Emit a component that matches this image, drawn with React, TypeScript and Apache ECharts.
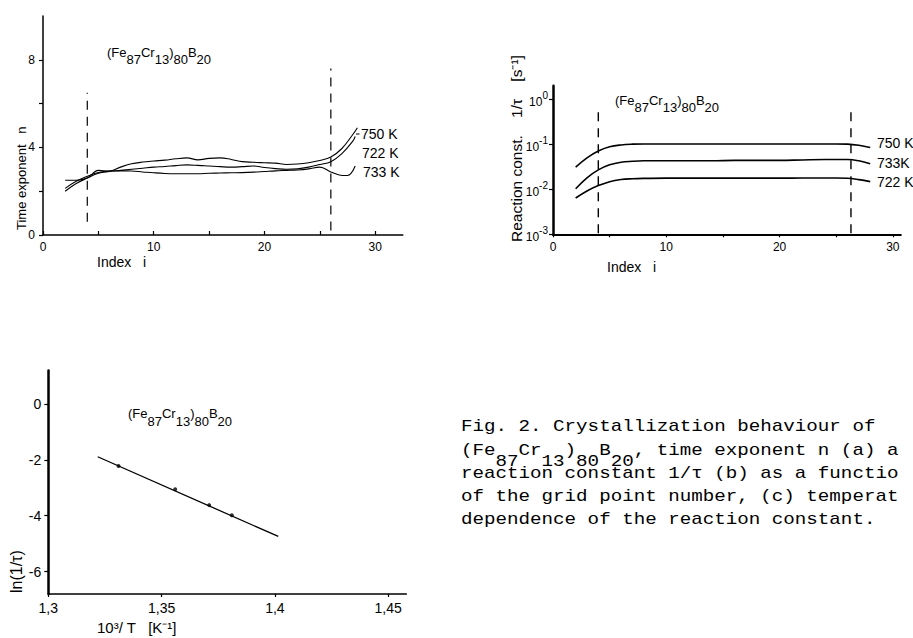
import React, { useEffect, useRef } from 'react';
import * as echarts from 'echarts';

const SANS = '"Liberation Sans", Arial, sans-serif';
const MONO = '"Liberation Mono", "Courier New", monospace';

// ---------- (a) time exponent n vs. index i ----------
const idxA750 = [2, 3, 4, 5, 6, 7, 8, 9, 10, 11, 12, 13, 14, 15, 16, 17, 18, 19, 20, 21, 22, 23, 24, 25, 26, 27, 28, 28.4];
const nA750 = [2.5, 2.5, 2.6, 2.95, 2.92, 3.1, 3.25, 3.33, 3.38, 3.42, 3.48, 3.52, 3.43, 3.5, 3.52, 3.45, 3.35, 3.32, 3.3, 3.28, 3.22, 3.24, 3.3, 3.4, 3.56, 3.95, 4.6, 4.9];
const idxA722 = [2, 3, 4, 5, 6, 7, 8, 9, 10, 11, 12, 13, 14, 15, 16, 17, 18, 19, 20, 21, 22, 23, 24, 25, 26, 27, 28, 28.2];
const nA722 = [2.0, 2.35, 2.6, 2.82, 2.9, 2.95, 3.0, 3.05, 3.1, 3.13, 3.17, 3.2, 3.18, 3.15, 3.12, 3.1, 3.12, 3.15, 3.08, 3.03, 3.0, 3.02, 3.1, 3.22, 3.35, 3.72, 4.3, 4.5];
const idxA733 = [2, 3, 4, 5, 6, 7, 8, 9, 10, 11, 12, 13, 14, 15, 16, 17, 18, 19, 20, 21, 22, 23, 24, 25, 26, 27, 27.5, 28.2];
const nA733 = [2.13, 2.45, 2.68, 2.85, 2.92, 2.93, 2.92, 2.88, 2.84, 2.81, 2.8, 2.8, 2.8, 2.82, 2.83, 2.84, 2.85, 2.87, 2.9, 2.93, 2.95, 2.97, 3.02, 3.1, 2.88, 2.72, 2.72, 3.15];
const dashAX = [4, 26];
const dashALow = [0.6, 0.2];
const dashAHigh = [6.5, 7.6];
const ticksAX = [0, 5, 10, 15, 20, 25, 30];
const labelsAX = [0, 10, 20, 30];
const ticksAY = [0, 2, 4, 6, 8];
const labelsAY = [0, 4, 8];
const curveLabelsA = ['750 K', '722 K', '733 K'];

// ---------- (b) reaction constant 1/tau vs. index i ----------
const idxB = [2, 3, 4, 5, 6, 7, 8, 10, 12, 14, 16, 18, 20, 22, 24, 25, 26, 27, 28];
const k750 = [0.031, 0.05, 0.071, 0.088, 0.097, 0.101, 0.102, 0.102, 0.102, 0.102, 0.102, 0.102, 0.102, 0.102, 0.102, 0.102, 0.101, 0.095, 0.085];
const k733 = [0.0103, 0.018, 0.027, 0.035, 0.04, 0.042, 0.043, 0.043, 0.043, 0.043, 0.044, 0.044, 0.044, 0.045, 0.046, 0.046, 0.046, 0.043, 0.037];
const k722 = [0.0064, 0.0092, 0.0121, 0.0148, 0.0165, 0.0172, 0.0175, 0.0177, 0.0177, 0.0177, 0.0177, 0.0177, 0.0177, 0.0178, 0.0178, 0.0178, 0.0176, 0.0164, 0.0148];
const dashBX = [4.0, 26.3];
const dashBLow = [0.00105, 0.00105];
const dashBHigh = [0.56, 0.56];
const ticksBX = [0, 5, 10, 15, 20, 25, 30];
const labelsBX = [0, 10, 20, 30];
const curveLabelsB = ['750 K', '733K', '722 K'];

// ---------- (c) ln(1/tau) vs. 10^3/T ----------
const invTLine = [1.3218, 1.4015];
const lnKLine = [-1.89, -4.74];
const invTPts = [1.331, 1.356, 1.371, 1.381];
const lnKPts = [-2.22, -3.05, -3.62, -3.98];
const ticksCX = [1.3, 1.35, 1.4, 1.45];
const ticksCY = [-6, -4, -2, 0];

// ---------- texts ----------
const formulaParts: [string, boolean][] = [
  ['(Fe', false], ['87', true], ['Cr', false], ['13', true], [')', false], ['80', true], ['B', false], ['20', true],
];
// caption as visible in the reference (right edge of the page cuts the lines)
const captionLines = [
  'Fig. 2. Crystallization behaviour of',
  '(Fe  Cr  )  B  , time exponent n (a) a',
  'reaction constant 1/\u03c4 (b) as a functio',
  'of the grid point number, (c) temperat',
  'dependence of the reaction constant.',
];
const captionSubs = '   87  13 80 20';

const zip = (xs: number[], ys: number[]) => xs.map((x, i) => [x, ys[i]]);

let measureCtx: CanvasRenderingContext2D | null = null;
const measure = (t: string, font: string) => {
  if (!measureCtx) measureCtx = document.createElement('canvas').getContext('2d');
  measureCtx!.font = font;
  return measureCtx!.measureText(t).width;
};

const txt = (x: number, y: number, text: string, size: number, opts: any = {}) => ({
  type: 'text',
  x,
  y,
  rotation: opts.rotation || 0,
  scaleX: opts.scaleX || 1,
  silent: true,
  style: {
    text,
    fontSize: size,
    fontFamily: opts.family || SANS,
    fill: '#000',
    align: opts.align || 'left',
    textAlign: opts.align || 'left',
    verticalAlign: 'middle',
    textVerticalAlign: 'middle',
  },
});

const formula = (x0: number, cy: number, size: number, drop: number) => {
  const font = `${size}px "Liberation Sans"`;
  let cx = x0;
  return formulaParts.map(([t, sub]) => {
    const el = txt(cx, cy + (sub ? drop : 0), t, size);
    cx += measure(t, font);
    return el;
  });
};

const axisBase = (w: number) => ({
  axisLine: { show: true, onZero: false, lineStyle: { color: '#000', width: w } },
  splitLine: { show: false },
});

export default function App() {
  const ref = useRef<HTMLDivElement>(null);
  useEffect(() => {
    const chart = echarts.init(ref.current!, null, { renderer: 'svg' });
    const lineA = { type: 'line', xAxisIndex: 0, yAxisIndex: 0, showSymbol: false, smooth: 0.4, lineStyle: { color: '#000', width: 1.1 }, itemStyle: { color: '#000' } };
    const lineB = { type: 'line', xAxisIndex: 1, yAxisIndex: 1, showSymbol: false, smooth: 0.4, lineStyle: { color: '#000', width: 1.6 }, itemStyle: { color: '#000' } };
    const dash = (ax: number, w: number) => ({ type: 'line', xAxisIndex: ax, yAxisIndex: ax, showSymbol: false, lineStyle: { color: '#000', width: w, type: [9, 7] } });

    const capSize = 16;
    const capScale = 1.2;
    const capX = 461;
    const capBase = [432, 456, 479, 502, 525];

    const graphics: any[] = [
      // (a)
      ...formula(107, 52, 13, 7),
      txt(21, 230, 'Time exponent   n', 13, { rotation: Math.PI / 2 }),
      txt(97, 262, 'Index   i', 14),
      { type: 'line', silent: true, shape: { x1: 356, y1: 134, x2: 359.5, y2: 134 }, style: { stroke: '#000', lineWidth: 1 } },
      txt(361, 134, curveLabelsA[0], 14),
      txt(362, 153, curveLabelsA[1], 14),
      txt(363, 172, curveLabelsA[2], 14),
      // (b)
      ...formula(615, 100, 13, 7),
      txt(516, 242, 'Reaction const.    1/\u03c4    [s\u207b\u00b9]', 15.5, { rotation: Math.PI / 2 }),
      txt(607, 267, 'Index   i', 14),
      txt(877, 143, curveLabelsB[0], 14),
      txt(877, 163, curveLabelsB[1], 14),
      txt(877, 182, curveLabelsB[2], 14),
      // (c)
      ...formula(128, 413, 13, 8),
      txt(16, 593, 'ln(1/\u03c4)', 16, { rotation: Math.PI / 2 }),
      txt(97, 627, '10\u00b3/ T   [K\u207b\u00b9]', 15),
      // caption
      ...captionLines.map((l, i) => txt(capX, capBase[i] - 0.33 * capSize, l, capSize, { family: MONO, scaleX: capScale })),
      txt(capX, 467 - 0.33 * capSize, captionSubs, capSize, { family: MONO, scaleX: capScale }),
    ];

    chart.setOption({
      animation: false,
      backgroundColor: '#fff',
      textStyle: { fontFamily: SANS, color: '#000' },
      grid: [
        { left: 43, top: 16, width: 359.8, height: 219, containLabel: false, outerBoundsMode: 'none' },
        { left: 553, top: 85.8, width: 347.8, height: 148.5, containLabel: false, outerBoundsMode: 'none' },
        { left: 48.3, top: 370.4, width: 358, height: 223.6, containLabel: false, outerBoundsMode: 'none' },
      ],
      xAxis: [
        {
          gridIndex: 0, type: 'value', min: 0, max: 32.5, ...axisBase(1.5),
          axisTick: { show: true, inside: true, length: 4, customValues: ticksAX, lineStyle: { color: '#000', width: 1.2 } },
          axisLabel: { show: true, customValues: labelsAX, margin: 6, fontSize: 12, color: '#000', fontFamily: SANS },
        },
        {
          gridIndex: 1, type: 'value', min: 0, max: 30.7, ...axisBase(2),
          axisTick: { show: true, inside: false, length: 3, customValues: ticksBX, lineStyle: { color: '#000', width: 1.2 } },
          axisLabel: { show: true, customValues: labelsBX, margin: 7, fontSize: 12, color: '#000', fontFamily: SANS },
        },
        {
          gridIndex: 2, type: 'value', min: 1.3, max: 1.458, ...axisBase(1.5),
          axisTick: { show: true, inside: false, length: 3, customValues: ticksCX, lineStyle: { color: '#000', width: 1.2 } },
          axisLabel: { show: true, customValues: ticksCX, margin: 7, fontSize: 14, color: '#000', fontFamily: SANS, formatter: (v: number) => String(v).replace('.', ',') },
        },
      ],
      yAxis: [
        {
          gridIndex: 0, type: 'value', min: 0, max: 10, ...axisBase(1.5),
          axisTick: { show: true, inside: false, length: 4, customValues: ticksAY, lineStyle: { color: '#000', width: 1.2 } },
          axisLabel: { show: true, customValues: labelsAY, margin: 8, fontSize: 12, color: '#000', fontFamily: SANS },
        },
        {
          gridIndex: 1, type: 'log', logBase: 10, min: 0.001, max: 2, ...axisBase(2.5),
          axisTick: { show: true, inside: false, length: 4, lineStyle: { color: '#000', width: 1.2 } },
          minorTick: { show: false },
          axisLabel: {
            show: true, margin: 5, color: '#000', fontFamily: SANS, showMaxLabel: false,
            formatter: (v: number) => `{b|10}{e|${Math.round(Math.log10(v))}}`,
            rich: {
              b: { fontSize: 12, fontFamily: SANS, color: '#000', lineHeight: 18, verticalAlign: 'bottom' },
              e: { fontSize: 10, fontFamily: SANS, color: '#000', lineHeight: 18, verticalAlign: 'top' },
            },
          },
        },
        {
          gridIndex: 2, type: 'value', min: -6.8, max: 1.2, ...axisBase(2.5),
          axisTick: { show: true, inside: false, length: 4, customValues: ticksCY, lineStyle: { color: '#000', width: 1.2 } },
          axisLabel: { show: true, customValues: ticksCY, margin: 7, fontSize: 14, color: '#000', fontFamily: SANS },
        },
      ],
      series: [
        { ...lineA, name: '750 K', data: zip(idxA750, nA750) },
        { ...lineA, name: '722 K', data: zip(idxA722, nA722) },
        { ...lineA, name: '733 K', data: zip(idxA733, nA733) },
        ...dashAX.map((x, i) => ({ ...dash(0, 1.2), data: [[x, dashALow[i]], [x, dashAHigh[i]]] })),
        { ...lineB, name: '750 K b', data: zip(idxB, k750) },
        { ...lineB, name: '733 K b', data: zip(idxB, k733) },
        { ...lineB, name: '722 K b', data: zip(idxB, k722) },
        ...dashBX.map((x, i) => ({ ...dash(1, 1.4), data: [[x, dashBLow[i]], [x, dashBHigh[i]]] })),
        { type: 'line', xAxisIndex: 2, yAxisIndex: 2, showSymbol: false, lineStyle: { color: '#000', width: 1.3 }, data: zip(invTLine, lnKLine) },
        { type: 'scatter', xAxisIndex: 2, yAxisIndex: 2, symbol: 'circle', symbolSize: 4, itemStyle: { color: '#000' }, data: zip(invTPts, lnKPts) },
      ],
      graphic: { elements: graphics },
    });
    return () => chart.dispose();
  }, []);
  return (
    <div
      ref={ref}
      style={{ position: 'fixed', left: 0, top: 0, width: 913, height: 638, overflow: 'hidden', background: '#fff' }}
    />
  );
}
